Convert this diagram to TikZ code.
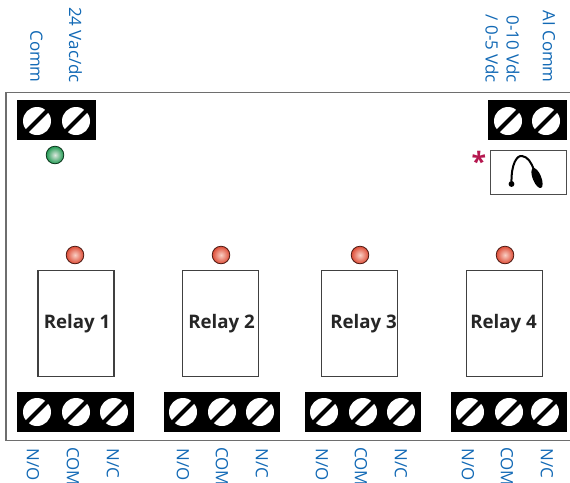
\documentclass[tikz,border=0pt]{standalone}
\usepackage{fontspec}
\setmainfont{Open Sans}
\usetikzlibrary{positioning}

\definecolor{wirelabel}{HTML}{1269B5}
\definecolor{framegray}{HTML}{6E6E6E}
\definecolor{starred}{HTML}{B5174F}
\definecolor{greencore}{HTML}{DDE8DF}
\definecolor{greenrim}{HTML}{219A52}
\definecolor{redcore}{HTML}{F9CFC4}
\definecolor{redrim}{HTML}{DD4B35}

\tikzset{
	relaybox/.style={draw=black!75, line width=0.9pt, minimum width=57pt, minimum height=79pt, inner sep=0pt},
	relaytext/.style={inner sep=0pt, font=\bfseries\fontsize{14}{16}\selectfont, text=black!85},
	wiretext/.style={text=wirelabel, rotate=-90, inner sep=0pt, font=\fontsize{12.7}{14}\selectfont},
	blockbox/.style={fill=black, inner sep=0pt, minimum height=29.5pt},
	jumperbox/.style={draw=black!70, line width=0.9pt, minimum width=57.5pt, minimum height=33.5pt, inner sep=0pt},
	screwhead/.pic={
		\fill[white] (0,0) circle (10.5pt);
		\draw[black, line width=3pt] (-11pt,-11pt) -- (11pt,11pt);
	},
}

\newcommand{\ledlamp}[4]{
	\shade[inner color=#3, outer color=#4, draw=black!65!#4, line width=0.6pt] (#1,#2) circle (6.6pt);
}

\begin{document}
\begin{tikzpicture}[x=0.75pt, y=-0.75pt]

	% ---- page

	\useasboundingbox (0,0) rectangle (570,482);

	% ---- board outline

	\draw[framegray, line width=1.4pt] (570,92.5) -- (6,92.5) -- (6,440.5) -- (570,440.5);

	% ---- terminal blocks

	\node[blockbox, minimum width=59.5pt] (powerblock) at (56.5,120) {};
	\node[blockbox, minimum width=59.5pt] (inputblock) at (527.5,120) {};
	\node[blockbox, minimum width=87.5pt] (blockA) at (75.5,412) {};
	\node[blockbox, minimum width=87.5pt] (blockB) at (222,412) {};
	\node[blockbox, minimum width=87.5pt] (blockC) at (363,412) {};
	\node[blockbox, minimum width=87.5pt] (blockD) at (509,412) {};

	% ---- screws

	\foreach \sx in {37,76,508,546} {
		\pic at (\sx,121) {screwhead};
	}
	\foreach \sx in {37,76,114,183,222,260,324,363,401,470,509,545} {
		\pic at (\sx,412) {screwhead};
	}

	% ---- leds

	\ledlamp{55}{155}{greencore}{greenrim}
	\foreach \lx in {75,221,360,505} {
		\ledlamp{\lx}{255}{redcore}{redrim}
	}

	% ---- relays

	\node[relaybox] (relayA) at (76,323.5) {};
	\node[relaybox] (relayB) at (220.5,323.5) {};
	\node[relaybox] (relayC) at (359.5,323.5) {};
	\node[relaybox] (relayD) at (504.5,323.5) {};

	\node[relaytext] (textA) at (77,323.5) {Relay 1};
	\node[relaytext] (textB) at (221.5,323.5) {Relay 2};
	\node[relaytext] (textC) at (363.5,323.5) {Relay 3};
	\node[relaytext] (textD) at (503.5,323.5) {Relay 4};

	% ---- jumper

	\node[jumperbox] (jumper) at (528.5,172.5) {};
	\node[text=starred, inner sep=0pt, font=\bfseries\fontsize{20}{20}\selectfont] (star) at (479,161) {*};

	\draw[black, line width=1.5pt] (511.5,183) .. controls (511,164) and (517,155) .. (522,156) .. controls (528,157) and (531,162) .. (534,170);
	\fill[black] (511.5,184) circle (2.2pt);
	\fill[black, rotate around={22:(537,178)}] (537,178) ellipse (3.2pt and 8pt);

	% ---- top labels

	\node[wiretext, anchor=east] (commlabel) at (36.5,83) {Comm};
	\node[wiretext, anchor=east] (powerlabel) at (75.5,83) {24 Vac/dc};
	\node[wiretext, anchor=east] (slashlabel) at (492,83) {/ 0-5 Vdc};
	\node[wiretext, anchor=east] (voltlabel) at (513,83) {0-10 Vdc};
	\node[wiretext, anchor=east] (aicommlabel) at (549,83) {AI Comm};

	% ---- bottom labels

	\foreach \lx [count=\i] in {33,183,322,468} {
		\node[wiretext, anchor=west] (nolabel\i) at (\lx,448) {N/O};
	}
	\foreach \lx [count=\i] in {73,222,361,507} {
		\node[wiretext, anchor=west] (comlabel\i) at (\lx,447) {COM};
	}
	\foreach \lx [count=\i] in {113,262,401,547} {
		\node[wiretext, anchor=west] (nclabel\i) at (\lx,448) {N/C};
	}

\end{tikzpicture}
\end{document}
